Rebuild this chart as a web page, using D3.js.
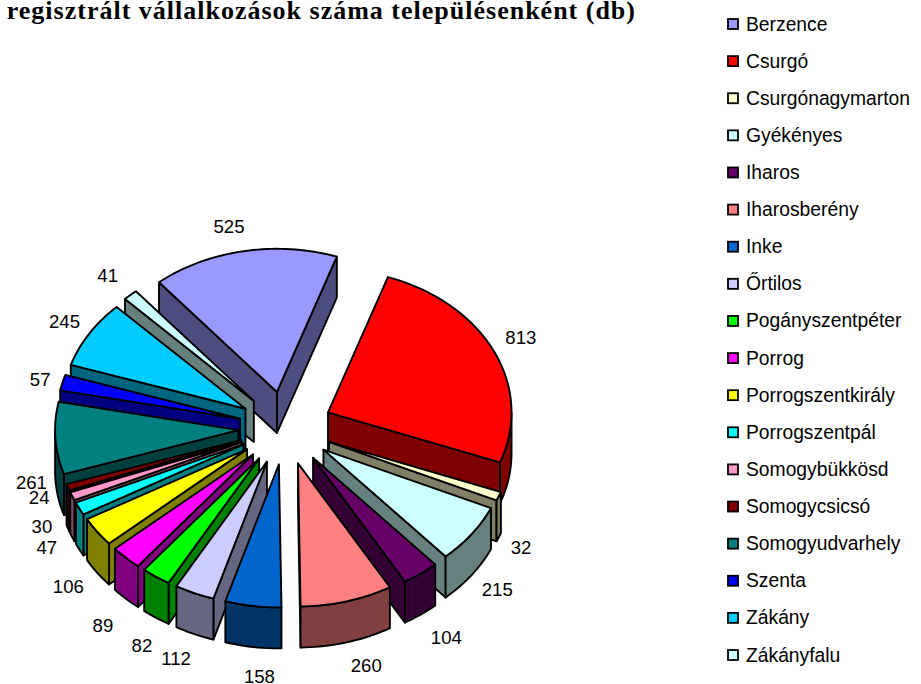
<!DOCTYPE html>
<html><head><meta charset="utf-8">
<script src="https://cdn.jsdelivr.net/npm/d3@7/dist/d3.min.js"></script>
<style>html,body{margin:0;padding:0;background:#fff;overflow:hidden}svg{display:block}</style>
</head><body><svg id="c" width="921" height="684"></svg>
<script>
const title = "A regisztrált vállalkozások száma településenként (db)";
const categories = ["Berzence","Csurgó","Csurgónagymarton","Gyékényes","Iharos","Iharosberény","Inke","Őrtilos","Pogányszentpéter","Porrog","Porrogszentkirály","Porrogszentpál","Somogybükkösd","Somogycsicsó","Somogyudvarhely","Szenta","Zákány","Zákányfalu"];
const values = [525,813,32,215,104,260,158,112,82,89,106,47,30,24,261,57,245,41];
const colors = ["#9999FF","#FF0000","#FFFFCC","#CCFFFF","#660066","#FF8080","#0066CC","#CCCCFF","#00FF00","#FF00FF","#FFFF00","#00FFFF","#FF99CC","#800000","#008080","#0000FF","#00CCFF","#CCFFFF"];
// label placement tweaks relative to the radial anchor
const labelNudges = [[-10,-7],[7,-6],[2,29],[8,21],[13,16],[14,8],[10,13],[-9,12],[-1,20],[-7,25],[-10,21],[-12,13],[-9,8],[-7,-9],[-1,41],[0,1],[-5,-3],[-7,-7]];

const cx=285.5, cy=428, R=183.5, k=0.78, explode=47, depth=41;
const svg=d3.select("#c");
const rad=Math.PI/180;
const pie=d3.pie().sort(null).value(d=>d).startAngle(-40*rad).endAngle(320*rad);
const arcs=pie(values).map((d,i)=>({...d,i,mid:(d.startAngle+d.endAngle)/2}));
const wallColor=c=>{const r=d3.rgb(c);return d3.rgb(r.r/2,r.g/2,r.b/2).formatHex();};
const proj=(a,r,ax,ay,dz=0)=>[ax+r*Math.sin(a),ay-r*k*Math.cos(a)+dz];
const line=d3.line();

function arcPts(a0,a1,ax,ay,dz){
  const n=Math.max(2,Math.ceil(Math.abs(a1-a0)/(1.5*rad))),p=[];
  for(let j=0;j<=n;j++)p.push(proj(a0+(a1-a0)*j/n,R,ax,ay,dz));
  return p;
}
const order=arcs.slice().sort((a,b)=>Math.cos(b.mid)-Math.cos(a.mid));
const g=svg.append("g").attr("stroke","#000").attr("stroke-width",1.9).attr("stroke-linejoin","round");
order.forEach(s=>{
  const [ax,ay]=proj(s.mid,explode,cx,cy);
  const top=colors[s.i], wall=wallColor(top);
  const face=(pts,fill)=>g.append("path").attr("d",line(pts)+"Z").attr("fill",fill);
  const radial=a=>{
    const e=proj(a,R,ax,ay);
    face([[ax,ay],e,[e[0],e[1]+depth],[ax,ay+depth]],wall);
  };
  if(Math.sin(s.startAngle)<0) radial(s.startAngle);
  if(Math.sin(s.endAngle)>0) radial(s.endAngle);
  // outer rim: only the stretches facing the viewer
  [[Math.PI/2,3*Math.PI/2],[5*Math.PI/2,7*Math.PI/2],[-3*Math.PI/2,-Math.PI/2]].forEach(([lo,hi])=>{
    const a0=Math.max(lo,s.startAngle),a1=Math.min(hi,s.endAngle);
    if(a1>a0){
      const up=arcPts(a0,a1,ax,ay,0),dn=arcPts(a1,a0,ax,ay,depth);
      face(up.concat(dn),wall);
    }
  });
  face([[ax,ay]].concat(arcPts(s.startAngle,s.endAngle,ax,ay,0)),top);
});

const labelR=182+explode+24;
svg.append("g").attr("font-family","Liberation Sans").attr("font-size",18.6).attr("fill","#000").attr("text-anchor","middle")
 .selectAll("text").data(arcs).join("text")
 .attr("x",d=>proj(d.mid,labelR,285,cy)[0]+labelNudges[d.i][0])
 .attr("y",d=>proj(d.mid,labelR,285,cy,depth*Math.max(0,-Math.cos(d.mid)))[1]+labelNudges[d.i][1]+6.5)
 .text(d=>values[d.i]);

const legendY=d3.scalePoint().domain(categories).range([24,655]);
const leg=svg.append("g").selectAll("g").data(categories).join("g").attr("transform",d=>`translate(0,${legendY(d)})`);
leg.append("rect").attr("x",728).attr("y",-5).attr("width",10).attr("height",10).attr("fill",(d,i)=>colors[i]).attr("stroke","#000").attr("stroke-width",1.8);
leg.append("text").attr("x",746).attr("y",6.5).attr("font-family","Liberation Sans").attr("font-size",19.3).attr("fill","#000").text(d=>d);

svg.append("text").attr("x",636).attr("y",19).attr("text-anchor","end").attr("font-family","Liberation Serif").attr("font-weight","bold").attr("font-size",26).attr("letter-spacing",1.0).attr("fill","#000").text(title);
</script></body></html>
